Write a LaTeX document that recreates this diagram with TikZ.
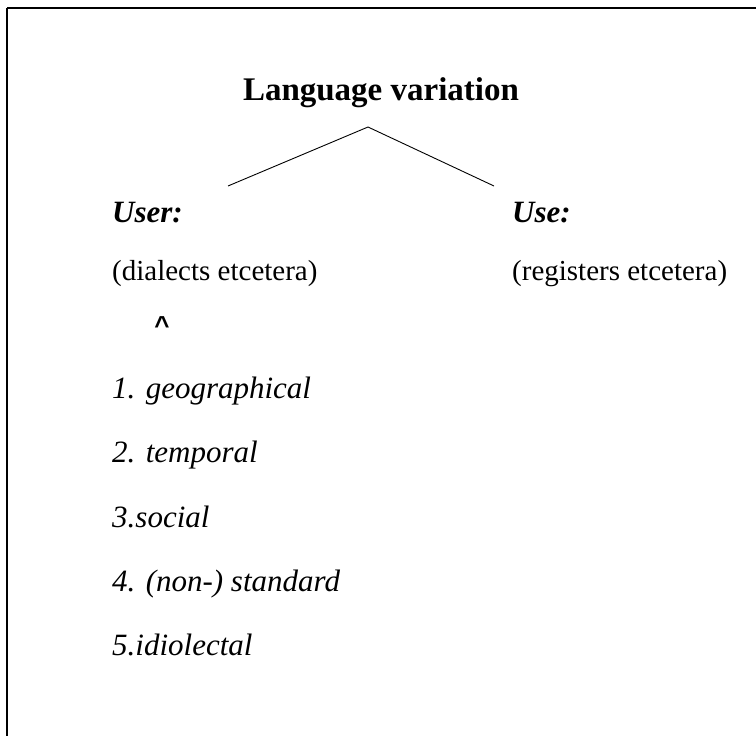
\documentclass[tikz,border=0pt]{standalone}
\usepackage{fontspec}
\setmainfont{Liberation Serif}
\newfontfamily\caretfont{Liberation Sans}
\tikzset{
  frame/.style={line width=2.6pt},
  branch/.style={line width=0.9pt},
  title/.style={font=\fontsize{33}{38}\selectfont\bfseries, inner sep=0pt, anchor=base},
  head/.style={font=\fontsize{31}{36}\selectfont\bfseries\itshape, inner sep=0pt, anchor=base west},
  body/.style={font=\fontsize{29}{34}\selectfont, inner sep=0pt, anchor=base west},
  item/.style={font=\fontsize{31}{36}\selectfont\itshape, inner sep=0pt, anchor=base west},
  caret/.style={font=\fontsize{26}{32}\selectfont\caretfont\bfseries, inner sep=0pt, anchor=north}
}
\begin{document}
\begin{tikzpicture}[x=1pt,y=-1pt]
\useasboundingbox (0,0) rectangle (756,736);
\clip (0,0) rectangle (756,736);
\fill[white] (0,0) rectangle (756,736);
\draw[frame] (7,8) -- (800,8);
\draw[frame] (7,8) -- (7,800);

\node[title] (lv) at (381,100) {Language variation};
\coordinate (apex) at (368,127);
\coordinate (lend) at (228,186);
\coordinate (rend) at (494,186);
\draw[branch] (apex) -- (lend);
\draw[branch] (apex) -- (rend);

\node[head] (user) at (112,222) {User:};
\node[head] (use) at (512,222) {Use:};
\node[body] (dial) at (112,280) {(dialects etcetera)};
\node[body] (reg) at (512,280) {(registers etcetera)};
\node[caret] (car) at (162,316) {\^{}};

\node[item] (i1) at (112,398) {1. geographical};
\node[item] (i2) at (112,462) {2. temporal};
\node[item] (i3) at (112,527) {3.social};
\node[item] (i4) at (112,591) {4. (non-) standard};
\node[item] (i5) at (112,655) {5.idiolectal};
\end{tikzpicture}
\end{document}
